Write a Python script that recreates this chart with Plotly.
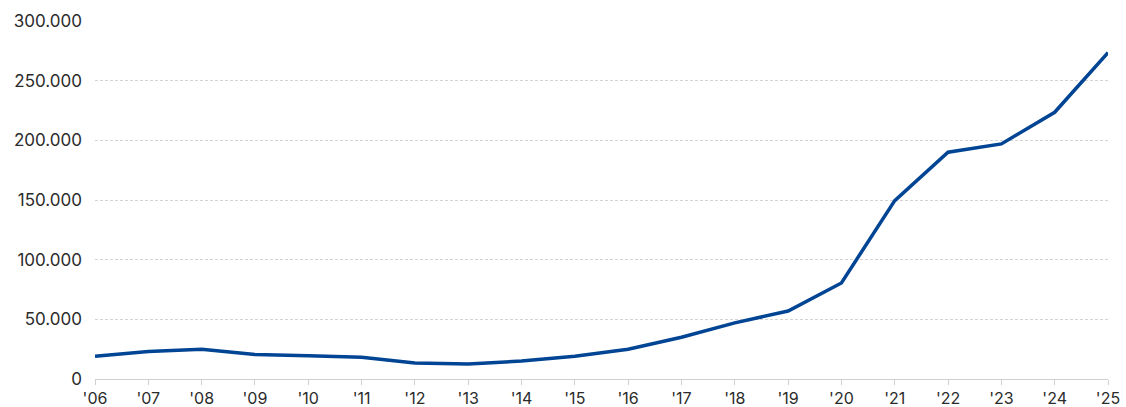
import plotly.graph_objects as go

years = ["'06", "'07", "'08", "'09", "'10", "'11", "'12", "'13", "'14", "'15",
         "'16", "'17", "'18", "'19", "'20", "'21", "'22", "'23", "'24", "'25"]
values = [19000, 23000, 25000, 20500, 19500, 18200, 13400, 12500, 15000, 19000,
          25000, 35000, 47000, 57000, 80500, 149500, 190000, 197000, 223500, 273500]
y_ticks = [0, 50000, 100000, 150000, 200000, 250000, 300000]
y_tick_labels = ["0", "50.000", "100.000", "150.000", "200.000", "250.000", "300.000"]

fig = go.Figure()
fig.add_trace(go.Scatter(
    x=list(range(len(years))), y=values, mode="lines",
    line=dict(color="#004494", width=3.5),
    hoverinfo="skip", cliponaxis=False,
))

fig.update_layout(
    width=1126, height=407,
    margin=dict(l=95, r=18, t=21, b=28),
    paper_bgcolor="white", plot_bgcolor="white",
    showlegend=False,
    font=dict(family="Inter, Roboto, sans-serif", size=17, color="#2b2b2b"),
)
fig.update_xaxes(
    tickmode="array", tickvals=list(range(len(years))), ticktext=years,
    range=[0, len(years) - 1], automargin=False,
    showgrid=False, zeroline=False,
    showline=True, linecolor="#cfcfcf", linewidth=1,
    ticks="outside", ticklen=5, tickcolor="#cfcfcf",
    tickfont=dict(size=16, color="#2b2b2b"),
)
fig.update_yaxes(
    tickmode="array", tickvals=y_ticks, ticktext=y_tick_labels,
    range=[0, 300000], automargin=False,
    showgrid=True, gridcolor="#d3d3d3", griddash="3px,2px", gridwidth=1,
    zeroline=False, showline=False, ticks="", ticklabelstandoff=12,
    tickfont=dict(size=17, color="#2b2b2b"),
)

fig.write_html(
    "out.html",
    config={"displayModeBar": False},
    post_script="document.body.style.margin='0';document.body.style.overflow='hidden';",
)
